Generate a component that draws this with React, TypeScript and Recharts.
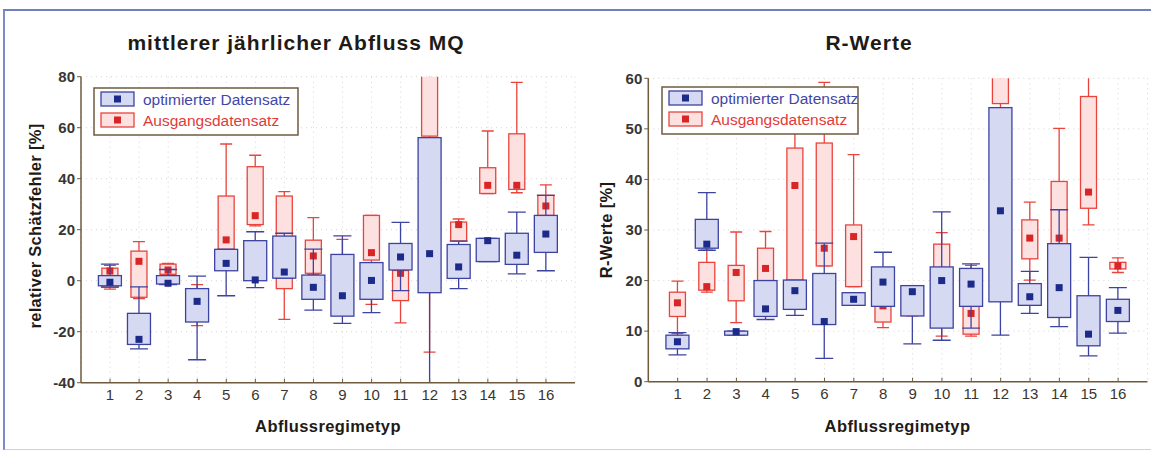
import React from 'react';
import { Bar, CartesianGrid, ComposedChart, XAxis, YAxis } from 'recharts';

// each box: [min, q1, median, q3, max]
type Box = [number, number, number, number, number];

const categories = ['1', '2', '3', '4', '5', '6', '7', '8', '9', '10', '11', '12', '13', '14', '15', '16'];

const mqOptimiert: Box[] = [
  [-2.5, -2, -0.6, 2, 6.5],
  [-26.7, -25, -23, -12.8, -2.4],
  [-1.5, -1.3, -1, 2, 4.4],
  [-31, -16.2, -8.1, -3.1, 1.8],
  [-5.9, 3.9, 6.8, 12.3, 12.3],
  [-2.7, 0, 0.3, 15.7, 19.2],
  [1, 1, 3.4, 17.5, 18.6],
  [-11.5, -7.3, -2.6, 2.2, 12.4],
  [-16.7, -13.9, -5.9, 10.3, 17.6],
  [-12.5, -7.3, 0.1, 7.1, 7.1],
  [-3.9, 4.2, 9.3, 14.6, 22.9],
  [-50, -4.7, 10.6, 56.1, 56.1],
  [-3.1, 0.9, 5.4, 14.2, 15.5],
  [7.5, 7.5, 15.7, 16.6, 16.6],
  [2.7, 6.4, 10, 18.6, 26.9],
  [3.9, 11.1, 18.3, 25.6, 33.5],
];

const mqAusgang: Box[] = [
  [-3.3, -2.5, 3.8, 4.9, 6],
  [-7, -6.5, 7.6, 11.6, 15.3],
  [2, 2.5, 4.2, 6.5, 6.8],
  [-17.6, -12, -8, -4, -1.5],
  [12.3, 12.3, 16, 33.2, 53.6],
  [21.5, 22, 25.5, 44.7, 49.2],
  [-15.2, -3.1, 10, 33.2, 34.9],
  [2.5, 2.9, 9.7, 15.9, 24.7],
  [-12, -8, -5, 8, 16.2],
  [-9.3, 8.1, 11, 25.6, 25.6],
  [-16.5, -7.8, 2.9, 4, 9],
  [-28, 56.7, 85, 100, 110],
  [15.6, 15.6, 22, 23, 24.2],
  [34.2, 34.2, 37.4, 44.3, 58.7],
  [34.5, 35.8, 37.4, 57.6, 77.8],
  [25.6, 25.6, 29.3, 33.5, 37.6],
];

const rOptimiert: Box[] = [
  [5.3, 6.5, 7.9, 9.2, 9.7],
  [26, 26.4, 27.2, 32.1, 37.4],
  [9.2, 9.2, 9.9, 10, 10],
  [12.3, 12.9, 14.4, 20, 20],
  [13.1, 14.3, 18, 20.1, 20.1],
  [4.6, 11.3, 11.9, 21.4, 27.4],
  [15.1, 15.1, 16.3, 17.6, 17.6],
  [14.9, 14.9, 19.7, 22.7, 25.6],
  [7.5, 13, 17.8, 19, 19],
  [8.2, 10.6, 20, 22.7, 33.6],
  [10.6, 14.9, 19.3, 22.4, 23.3],
  [9.2, 15.8, 33.8, 54.2, 54.2],
  [13.5, 15.1, 16.8, 19.4, 21.8],
  [10.9, 12.7, 18.6, 27.3, 34],
  [5.1, 7.1, 9.4, 17, 24.6],
  [9.6, 11.9, 14.1, 16.3, 18.6],
];

const rAusgang: Box[] = [
  [9.5, 12.9, 15.6, 17.7, 19.9],
  [17.7, 18.1, 18.8, 23.6, 26],
  [11.7, 16, 21.6, 23, 29.6],
  [20, 20, 22.4, 26.4, 29.7],
  [20, 20, 38.8, 46.2, 55],
  [22.9, 22.9, 26.4, 47.2, 59.2],
  [18.8, 18.8, 28.7, 31, 44.9],
  [10.7, 11.8, 15, 18, 22],
  [13, 14, 17, 18, 19],
  [9, 15, 22, 27.2, 29.5],
  [9, 9.4, 13.5, 15, 23],
  [30, 55, 70, 80, 90],
  [20.1, 24.3, 28.4, 32, 35.5],
  [20, 25, 28.4, 39.6, 50.1],
  [31, 34.3, 37.5, 56.4, 65],
  [21.6, 22.3, 22.9, 23.6, 24.5],
];

const mqTicks = [-40, -20, 0, 20, 40, 60, 80];
const rTicks = [0, 10, 20, 30, 40, 50, 60];

const FRAME = '#6e5b3e';
const TEXT = '#3a3530';
const BLUE = { stroke: '#3d43a0', fill: '#d6d9f2', dot: '#1c2a8a', boxW: 23, capW: 18 };
const RED = { stroke: '#e8443c', fill: '#fde1e1', dot: '#d92525', boxW: 16, capW: 12 };

type Row = { cat: string; opt: Box; aus: Box };

const toRows = (opt: Box[], aus: Box[]): Row[] =>
  categories.map((cat, i) => ({ cat, opt: opt[i], aus: aus[i] }));

const mqRows = toRows(mqOptimiert, mqAusgang);
const rRows = toRows(rOptimiert, rAusgang);

const rangeOf = (row: Row) => [
  Math.min(row.opt[0], row.aus[0]),
  Math.max(row.opt[4], row.aus[4]),
];

function OneBox({ b, cx, py, style }: { b: Box; cx: number; py: (v: number) => number; style: typeof BLUE }) {
  const [mn, q1, md, q3, mx] = b;
  const half = style.boxW / 2;
  const cap = style.capW / 2;
  return (
    <g>
      <line x1={cx} x2={cx} y1={py(mx)} y2={py(mn)} stroke={style.stroke} strokeWidth={1.3} />
      <line x1={cx - cap} x2={cx + cap} y1={py(mx)} y2={py(mx)} stroke={style.stroke} strokeWidth={1.3} />
      <line x1={cx - cap} x2={cx + cap} y1={py(mn)} y2={py(mn)} stroke={style.stroke} strokeWidth={1.3} />
      <rect
        x={cx - half}
        y={py(q3)}
        width={style.boxW}
        height={Math.max(py(q1) - py(q3), 0.5)}
        fill={style.fill}
        stroke={style.stroke}
        strokeWidth={1.3}
      />
      <rect x={cx - 3.5} y={py(md) - 3.5} width={7} height={7} fill={style.dot} />
    </g>
  );
}

function BoxPair(props: any) {
  const { x, y, width, height, payload } = props;
  const row = payload as Row;
  const [lo, hi] = rangeOf(row);
  const top = Math.min(y, y + height);
  const h = Math.abs(height);
  const py = (v: number) => top + ((hi - v) / (hi - lo)) * h;
  const cx = x + width / 2;
  return (
    <g>
      <OneBox b={row.aus} cx={cx} py={py} style={RED} />
      <OneBox b={row.opt} cx={cx} py={py} style={BLUE} />
    </g>
  );
}

function BoxChart({
  rows,
  ticks,
  width,
  margin,
  pad,
}: {
  rows: Row[];
  ticks: number[];
  width: number;
  margin: { top: number; right: number; bottom: number; left: number };
  pad: number;
}) {
  const domain = [ticks[0], ticks[ticks.length - 1]];
  return (
    <ComposedChart width={width} height={450} data={rows} margin={margin}>
      <CartesianGrid stroke="#d4d4d4" strokeDasharray="1 4" />
      <XAxis
        dataKey="cat"
        padding={{ left: pad, right: pad }}
        height={30}
        interval={0}
        tickSize={-4}
        tickMargin={11}
        axisLine={{ stroke: FRAME, strokeWidth: 1.5 }}
        tickLine={{ stroke: FRAME }}
        tick={{ fontSize: 15, fill: TEXT }}
      />
      <XAxis
        xAxisId="top"
        orientation="top"
        dataKey="cat"
        padding={{ left: pad, right: pad }}
        height={0}
        interval={0}
        mirror
        tickSize={4}
        tickFormatter={() => ''}
        axisLine={{ stroke: FRAME, strokeWidth: 1.5 }}
        tickLine={{ stroke: FRAME }}
      />
      <YAxis
        domain={domain}
        ticks={ticks}
        allowDataOverflow
        width={30}
        tickSize={4}
        tickMargin={2}
        axisLine={{ stroke: FRAME, strokeWidth: 1.5 }}
        tickLine={{ stroke: FRAME }}
        tick={{ fontSize: 15, fill: TEXT, fontWeight: 'bold' }}
      />
      <YAxis
        yAxisId="right"
        orientation="right"
        domain={domain}
        ticks={ticks}
        allowDataOverflow
        width={0}
        mirror
        tickSize={4}
        tickFormatter={() => ''}
        axisLine={{ stroke: FRAME, strokeWidth: 1.5 }}
        tickLine={{ stroke: FRAME }}
      />
      <Bar dataKey={(r: Row) => rangeOf(r)} shape={<BoxPair />} isAnimationActive={false} />
    </ComposedChart>
  );
}

function LegendBox({ x, y, w }: { x: number; y: number; w: number }) {
  return (
    <g>
      <rect x={x} y={y} width={w} height={47} fill="#fff" stroke={FRAME} strokeWidth={1.5} />
      <rect x={x + 7} y={y + 4} width={33} height={14} fill={BLUE.fill} stroke={BLUE.stroke} strokeWidth={1.3} />
      <rect x={x + 20} y={y + 7.5} width={7} height={7} fill={BLUE.dot} />
      <rect x={x + 7} y={y + 25} width={33} height={14} fill={RED.fill} stroke={RED.stroke} strokeWidth={1.3} />
      <rect x={x + 20} y={y + 28.5} width={7} height={7} fill={RED.dot} />
      <text x={x + 49} y={y + 16.5} fontSize={15.5} fill="#4446a6">
        optimierter Datensatz
      </text>
      <text x={x + 49} y={y + 37.5} fontSize={15.5} fill="#e23a3a">
        Ausgangsdatensatz
      </text>
    </g>
  );
}

export default function App() {
  return (
    <div
      style={{
        position: 'absolute',
        left: 0,
        top: 0,
        width: 1151,
        height: 450,
        background: '#fff',
        overflow: 'hidden',
        fontFamily: "'Liberation Sans', Arial, sans-serif",
      }}
    >
      <div
        style={{
          position: 'absolute',
          left: 3,
          top: 9,
          width: 1160,
          height: 438,
          borderTop: '2px solid #6f80be',
          borderLeft: '2px solid #7b8cc6',
          borderBottom: '2px solid #c4d2ea',
        }}
      />
      <div style={{ position: 'absolute', left: 0, top: 0 }}>
        <BoxChart
          rows={mqRows}
          ticks={mqTicks}
          width={600}
          margin={{ top: 76.7, right: 25, bottom: 37.3, left: 51 }}
          pad={14.5}
        />
      </div>
      <div style={{ position: 'absolute', left: 575, top: 0 }}>
        <BoxChart
          rows={rRows}
          ticks={rTicks}
          width={576}
          margin={{ top: 78.3, right: 3.5, bottom: 38.3, left: 43.3 }}
          pad={14.7}
        />
      </div>
      <svg
        width={1151}
        height={450}
        style={{ position: 'absolute', left: 0, top: 0, pointerEvents: 'none' }}
      >
        <g fontWeight="bold" fill="#1e1a16">
          <text x={296} y={50} fontSize={21} letterSpacing={1} textAnchor="middle">
            mittlerer jährlicher Abfluss MQ
          </text>
          <text x={869} y={50} fontSize={21} letterSpacing={1} textAnchor="middle">
            R-Werte
          </text>
          <text x={328} y={432} fontSize={16.5} letterSpacing={0.4} textAnchor="middle">
            Abflussregimetyp
          </text>
          <text x={897.5} y={432} fontSize={16.5} letterSpacing={0.4} textAnchor="middle">
            Abflussregimetyp
          </text>
          <text
            x={41}
            y={226}
            fontSize={16.5}
            letterSpacing={0.3}
            textAnchor="middle"
            transform="rotate(-90 41 226)"
          >
            relativer Schätzfehler [%]
          </text>
          <text
            x={612}
            y={230}
            fontSize={16.5}
            letterSpacing={0.3}
            textAnchor="middle"
            transform="rotate(-90 612 230)"
          >
            R-Werte [%]
          </text>
        </g>
        <LegendBox x={94} y={88} w={204} />
        <LegendBox x={662} y={87} w={196} />
      </svg>
    </div>
  );
}
